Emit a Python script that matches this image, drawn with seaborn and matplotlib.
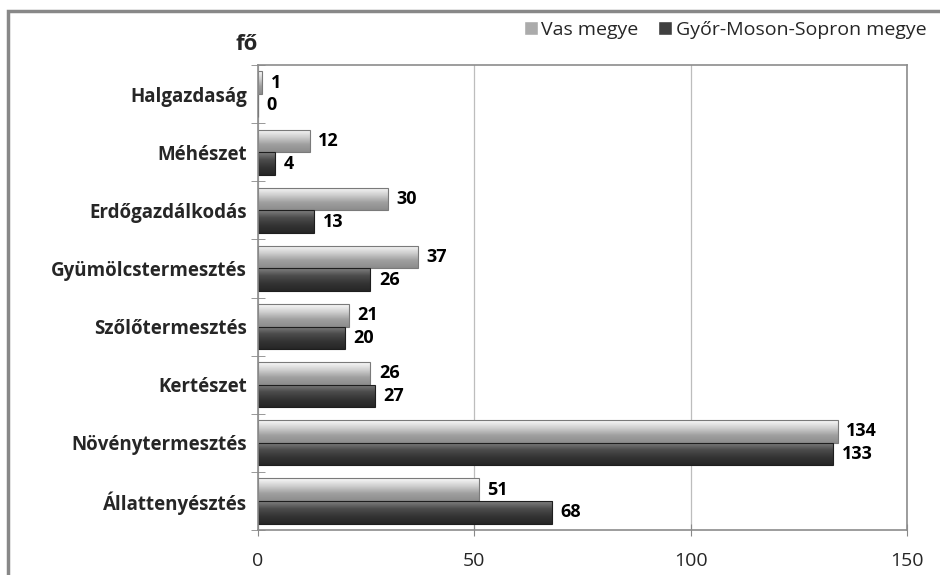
import numpy as np
import pandas as pd
import matplotlib.pyplot as plt
import seaborn as sns
from matplotlib.patches import Rectangle
from matplotlib.colors import LinearSegmentedColormap

sns.set_style("white")
plt.rcParams["font.family"] = ["Open Sans", "DejaVu Sans"]

categories = ["Halgazdaság", "Méhészet", "Erdőgazdálkodás", "Gyümölcstermesztés",
              "Szőlőtermesztés", "Kertészet", "Növénytermesztés", "Állattenyésztés"]
vas = [1, 12, 30, 37, 21, 26, 134, 51]
gyms = [0, 4, 13, 26, 20, 27, 133, 68]
series = ["Vas megye", "Győr-Moson-Sopron megye"]

df = pd.DataFrame({"Ágazat": categories * 2,
                   "fő": vas + gyms,
                   "Megye": [series[0]] * len(categories) + [series[1]] * len(categories)})

fig = plt.figure(figsize=(9.4, 5.75), dpi=100)
ax = fig.add_axes([258 / 940, 1 - 530 / 575, (907 - 258) / 940, (530 - 65) / 575])

sns.barplot(data=df, y="Ágazat", x="fő", hue="Megye", hue_order=series,
            order=categories, palette=["#ababab", "#3f3f3f"], width=0.78,
            orient="h", ax=ax, legend=True)

# shaded look of the bars
shades = [
    LinearSegmentedColormap.from_list("light", ["#fafafa", "#d0d0d0", "#a0a0a0", "#8c8c8c"]),
    LinearSegmentedColormap.from_list("dark", ["#808080", "#4c4c4c", "#343434", "#262626"]),
]
edges = ["#7a7a7a", "#1e1e1e"]
grad = np.linspace(0, 1, 64).reshape(-1, 1)
for cont, ec, cm in zip(ax.containers, edges, shades):
    for bar in cont:
        bar.set_edgecolor(ec)
        bar.set_linewidth(0.8)
        w = bar.get_width()
        if w > 0:
            y0, h = bar.get_y(), bar.get_height()
            im = ax.imshow(grad, cmap=cm, aspect="auto", origin="upper",
                           extent=[bar.get_x(), bar.get_x() + w, y0 + h, y0],
                           zorder=bar.get_zorder() + 0.1)
            im.set_clip_path(bar)
            bar.set_facecolor("none")
            bar.set_zorder(bar.get_zorder() + 0.2)
    ax.bar_label(cont, padding=6, fontsize=13, fontweight="bold", color="black")

ax.set_xlim(0, 150)
ax.set_xticks([0, 50, 100, 150])
ax.tick_params(axis="x", length=8, direction="inout", color="#888888",
               labelsize=14, pad=12, bottom=True)
ax.set_yticks(range(len(categories)))
ax.set_yticklabels(categories, fontsize=13.5, fontweight="bold")
ax.tick_params(axis="y", length=0, pad=8)
ax.set_yticks([i - 0.5 for i in range(len(categories) + 1)], minor=True)
ax.tick_params(axis="y", which="minor", length=10, direction="inout",
               color="#888888", left=True)
ax.set_ylim(len(categories) - 0.5, -0.5)
ax.grid(axis="x", color="#bdbdbd", linewidth=0.9)
ax.set_axisbelow(True)
ax.set_xlabel("")
ax.set_ylabel("")
for s in ax.spines.values():
    s.set_color("#8c8c8c")
    s.set_linewidth(1.2)
    s.set_visible(True)

handles, labels = ax.get_legend_handles_labels()
ax.get_legend().remove()
fig.legend(handles, labels, loc="center right", bbox_to_anchor=(934 / 940, 1 - 30 / 575),
           ncol=2, frameon=False, fontsize=14, handlelength=0.7, handleheight=0.7,
           handletextpad=0.2, columnspacing=1.0, borderaxespad=0)

fig.text(247 / 940, 1 - 45 / 575, "fő", fontsize=16, fontweight="bold",
         ha="center", va="center")

fig.patches.append(Rectangle((8 / 940, -0.05), 1.1, 1 - 11 / 575 + 0.05,
                             transform=fig.transFigure, fill=False,
                             edgecolor="#888888", linewidth=2.5, zorder=0))

fig.savefig("out.png", dpi=100)
